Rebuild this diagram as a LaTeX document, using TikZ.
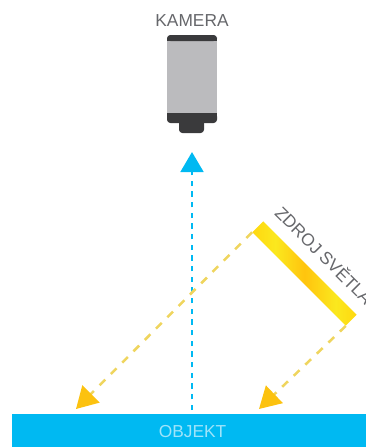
\documentclass[tikz,border=0pt]{standalone}
\usepackage{fontspec}
\setmainfont{Liberation Sans}
\usetikzlibrary{arrows.meta}
\definecolor{objblue}{HTML}{00B9F2}
\definecolor{objtext}{HTML}{9FE4FA}
\definecolor{camgray}{HTML}{BBBBBE}
\definecolor{camdark}{HTML}{3A3A3C}
\definecolor{labelgray}{HTML}{66676B}
\definecolor{rayyellow}{HTML}{EFD55E}
\definecolor{tipyellow}{HTML}{FCC20F}
\definecolor{baryellow}{HTML}{FFD810}
\definecolor{barlight}{HTML}{FBE81E}
\definecolor{barmid}{HTML}{FFC40E}
\pgfdeclarehorizontalshading{lightbar}{100bp}{
  color(0bp)=(baryellow);
  color(25bp)=(baryellow);
  color(36bp)=(barlight);
  color(50bp)=(barmid);
  color(65bp)=(barlight);
  color(75bp)=(baryellow);
  color(100bp)=(baryellow)}
\tikzset{
  x=0.75pt,y=-0.75pt,
  labeltext/.style={text=labelgray,font=\fontsize{13}{13}\selectfont,inner sep=0pt},
  camdarkpart/.style={fill=camdark,draw=none},
  blueray/.style={draw=objblue,line width=2.2pt,dash pattern=on 4pt off 4pt,
    -{Triangle[length=15pt,width=17pt,fill=objblue,color=objblue,sep=0pt]}},
  yellowray/.style={draw=rayyellow,line width=1.9pt,dash pattern=on 6pt off 6pt,
    -{Triangle[length=16pt,width=18pt,fill=tipyellow,color=tipyellow]}},
}
\begin{document}
\begin{tikzpicture}
\useasboundingbox (0,0) rectangle (366,447);
% object
\node[fill=objblue,minimum width=265.5pt,minimum height=24.75pt,inner sep=0pt,anchor=north west] (objekt) at (12,414) {};
\node[text=objtext,font=\fontsize{13}{13}\selectfont,inner sep=0pt] (objektlabel) at (192.5,432) {OBJEKT};
% camera
\fill[camgray] (167,38) rectangle (217,115);
\fill[camdarkpart,rounded corners=2.5pt] (179,118) -- (179,133) -- (204,133) -- (204,118) -- cycle;
\fill[camdarkpart,rounded corners=2.5pt] (167,113) -- (167,123) -- (217,123) -- (217,113) -- cycle;
\fill[camdarkpart] (167,113) rectangle (217,117);
\fill[camdarkpart,rounded corners=2.5pt] (167,41) -- (167,35) -- (217,35) -- (217,41) -- cycle;
\fill[camdarkpart] (167,38) rectangle (217,41);
\node[labeltext] (kamera) at (192,21) {KAMERA};
% light source
\node[shade,shading=lightbar,rotate=-45,minimum width=99pt,minimum height=11.5pt,inner sep=0pt] (bar) at (304.5,273.5) {};
\node[labeltext,rotate=-45,anchor=west] (zdroj) at (279,209) {ZDROJ SVĚTLA};
% rays
\coordinate (blueend) at (192,410);
\coordinate (bluetip) at (192,152);
\coordinate (tipa) at (76,409);
\coordinate (tipb) at (259,409);
\draw[blueray] (blueend) -- (bluetip);
\draw[yellowray] (bar.south west) -- (tipa);
\draw[yellowray] (bar.south east) -- (tipb);
\end{tikzpicture}
\end{document}
